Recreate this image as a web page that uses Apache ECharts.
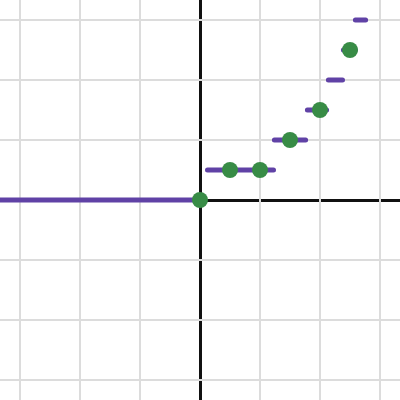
<!DOCTYPE html>
<html>
<head>
<meta charset="utf-8">
<script src="https://cdn.jsdelivr.net/npm/echarts@6/dist/echarts.min.js"></script>
<style>html,body{margin:0;padding:0;background:#fff}#c{width:400px;height:400px}</style>
</head>
<body>
<div id="c"></div>
<script>
// grid line positions (units)
const gridTicks = [-3, -2, -1, 1, 2, 3];
// step segments: start x, end x, y
const segStart = [-3.5, 0.125, 1.24, 1.79, 2.14, 2.39, 2.59];
const segEnd   = [0,    1.225, 1.76, 2.11, 2.375, 2.59, 2.76];
const segY     = [0,    0.5,   1,    1.5,  2,     2.5,  3];
// sample points
const pointX = [0, 0.5, 1, 1.5, 2, 2.5];
const pointY = [0, 0.5, 0.5, 1, 1.5, 2.5];

const lineData = [];
segStart.forEach((s, i) => {
  if (i > 0) lineData.push(['-', '-']);
  lineData.push([s, segY[i]]);
  lineData.push([segEnd[i], segY[i]]);
});
const pts = pointX.map((x, i) => [x, pointY[i]]);

const gridLines = [];
gridTicks.forEach(t => { gridLines.push({xAxis: t}); gridLines.push({yAxis: t}); });

const chart = echarts.init(document.getElementById('c'));
chart.setOption({
  animation: false,
  backgroundColor: '#fff',
  grid: {left: 0, right: 0, top: 0, bottom: 0},
  xAxis: {
    type: 'value', min: -10/3, max: 10/3, z: 3,
    axisLine: {onZero: true, lineStyle: {color: '#111', width: 3}},
    axisTick: {show: false}, axisLabel: {show: false}, splitLine: {show: false}
  },
  yAxis: {
    type: 'value', min: -10/3, max: 10/3, z: 3,
    axisLine: {onZero: true, lineStyle: {color: '#111', width: 3}},
    axisTick: {show: false}, axisLabel: {show: false}, splitLine: {show: false}
  },
  series: [
    {
      type: 'line', data: [], z: 1, silent: true,
      markLine: {
        silent: true, symbol: ['none', 'none'], label: {show: false},
        lineStyle: {color: '#dcdcdc', width: 2, type: 'solid'},
        data: gridLines
      }
    },
    {
      type: 'line', data: lineData, z: 5, showSymbol: false, connectNulls: false,
      lineStyle: {color: '#6042a6', width: 5, cap: 'round'}
    },
    {
      type: 'scatter', data: pts, z: 6, symbolSize: 16,
      itemStyle: {color: '#388c46', opacity: 1}
    }
  ]
});
</script>
</body>
</html>
